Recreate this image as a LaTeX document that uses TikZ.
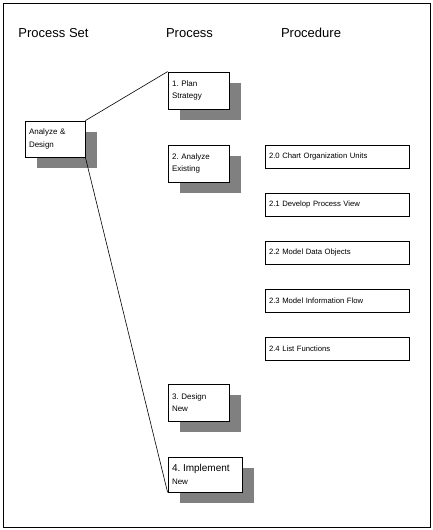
\documentclass[tikz,border=0pt]{standalone}
\usepackage{fontspec}
\setmainfont{Liberation Sans}
\usepackage{tikz}
\usetikzlibrary{shadows, positioning}
\definecolor{shadowGray}{HTML}{808080}
\frenchspacing
\tikzset{
    box_set/.style={
        rectangle, draw=black, line width=0.8pt, fill=white,
        inner xsep=4pt, align=left,
        font=\fontsize{8}{12.5}\selectfont,
        drop shadow={shadow xshift=12pt, shadow yshift=-11pt, fill=shadowGray, opacity=1}
    },
    box_proc/.style={
        rectangle, draw=black, line width=0.8pt, fill=white,
        minimum width=144pt, minimum height=23pt, text width=136pt,
        inner xsep=4pt, align=left, font=\fontsize{7.7}{9}\selectfont
    },
    head_lbl/.style={font=\fontsize{13}{15}\selectfont, inner sep=0pt},
    link_line/.style={draw=black, line width=0.6pt}
}
\begin{document}
\begin{tikzpicture}[x=1pt, y=-1pt]
    \useasboundingbox (0, 0) rectangle (433, 530);
    \draw[line width=0.9pt] (3, 3) rectangle (430, 527);

    \node[head_lbl] (h_set) at (53.5, 33) {Process Set};
    \node[head_lbl] (h_process) at (189.5, 33) {Process};
    \node[head_lbl] (h_procedure) at (311, 33) {Procedure};

    \node[box_set, minimum width=60pt, minimum height=36pt, text width=52pt] (analyze_design) at (55, 139) {Analyze \&\\Design};

    \node[box_set, minimum width=61pt, minimum height=37pt, text width=53pt] (plan) at (198.5, 90.5) {1. Plan\\Strategy};
    \node[box_set, minimum width=61pt, minimum height=37pt, text width=53pt] (analyze_existing) at (198.5, 163.5) {2. Analyze\\Existing};
    \node[box_set, minimum width=61pt, minimum height=37pt, text width=53pt] (design_new) at (198.5, 402.5) {3. Design\\New};
    \node[box_set, minimum width=74pt, minimum height=35pt, text width=66pt] (implement_new) at (205, 474.5) {{\fontsize{10}{12.5}\selectfont 4. Implement}\\New};

    \node[box_proc] (chart_units) at (337, 156.5) {2.0 Chart Organization Units};
    \node[box_proc] (process_view) at (337, 204.5) {2.1 Develop Process View};
    \node[box_proc] (data_objects) at (337, 252.5) {2.2 Model Data Objects};
    \node[box_proc] (info_flow) at (337, 300.5) {2.3 Model Information Flow};
    \node[box_proc] (list_functions) at (337, 349) {2.4 List Functions};

    \draw[link_line] (analyze_design.north east) -- (plan.north west);
    \draw[link_line] (analyze_design.south east) -- (implement_new.south west);
\end{tikzpicture}
\end{document}
